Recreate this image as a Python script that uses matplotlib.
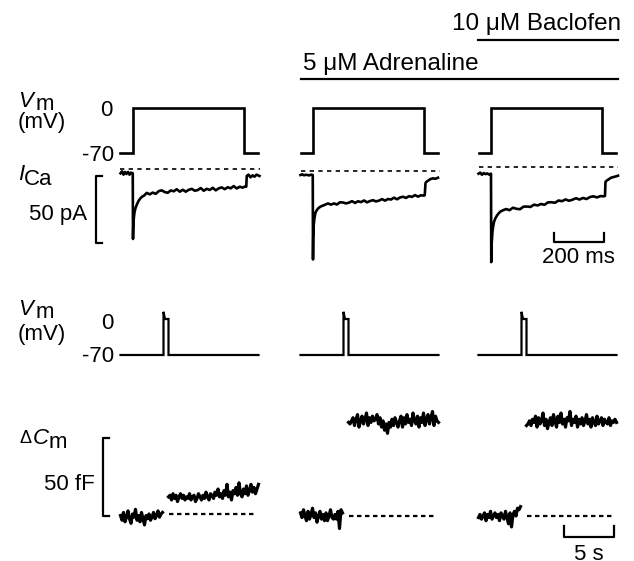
import numpy as np
import matplotlib
matplotlib.use("Agg")
import matplotlib.pyplot as plt
from matplotlib.lines import Line2D

plt.rcParams["font.family"] = ["Liberation Sans", "DejaVu Sans"]

W, H = 634, 561

# voltage step protocol (ms, mV)
step_t = [0, 50, 50, 495, 495, 550]
step_v = [-70, -70, 0, 0, -70, -70]

# single depolarisation used for the capacitance runs (s, mV)
pulse_t = [0, 4.3, 4.3, 4.45, 4.8, 4.8, 13.8]
pulse_v = [-70, -70, 14, 0, 0, -70, -70]

# I_Ca traces (ms, pA): control / adrenaline / adrenaline + baclofen
ica1_t = [0, 6, 12, 18, 24, 30, 36, 42, 49,
          50, 51, 53, 56, 60, 65, 71, 78, 86, 95,
          105, 117, 129, 141, 153, 165, 177, 189, 201, 213, 225, 237, 249, 261,
          273, 285, 297, 309, 321, 333, 345, 357, 369, 381, 393, 405, 417, 429,
          441, 453, 465, 477, 489, 501,
          503, 505, 512, 520, 528, 536, 544, 556]
ica1 = [-3, -1.5, -4, -2, -3.5, -2, -4, -2.5, -3,
        -52, -44, -37, -32, -29, -26.5, -24, -22, -20.5, -19.5,
        -17.6, -18.7, -17.4, -18.3, -16.3, -15.7, -17.0, -17.5, -15.8, -16.4,
        -14.9, -16.7, -15.3, -16.7, -15.3, -14.6, -16.0, -15.5, -14.0, -16.0,
        -14.6, -15.4, -13.8, -15.7, -14.2, -13.5, -14.8, -13.4, -14.2, -12.5,
        -14.3, -13.0, -13.7, -12.5,
        -13, -5, -4, -6, -4.5, -5.5, -4, -5]

ica2_t = [0, 7, 14, 21, 28, 35, 42, 49,
          50, 51, 53, 56, 60, 66, 73, 81, 90, 100,
          110, 122, 134, 146, 158, 170, 182, 194, 206, 218, 230, 242, 254, 266,
          278, 290, 302, 314, 326, 338, 350, 362, 374, 386, 398, 410, 422, 434,
          446, 458, 470, 482, 494,
          497, 500, 504, 512, 520, 530, 540, 550]
ica2 = [-3, -2.5, -3.2, -2.8, -3, -3.3, -2.7, -3,
        -66, -50, -40, -35, -31, -29, -27.5, -26.5, -25.8, -25,
        -24.2, -25.1, -24.2, -25.0, -23.3, -23.5, -24.2, -23.6, -22.5, -23.8,
        -22.6, -23.2, -22.0, -23.4, -22.4, -21.8, -22.7, -22.1, -21.0, -22.1,
        -20.9, -21.3, -19.9, -21.1, -19.8, -19.2, -20.1, -18.8, -19.3, -18.0,
        -19.1, -18.1, -18.4,
        -18, -9, -8, -7, -6, -5.5, -5.8, -5]

ica3_t = [0, 7, 14, 21, 28, 35, 42, 50,
          51, 53, 56, 59, 62, 67, 74, 81, 88, 98,
          110, 124, 138, 152, 166, 180, 194, 208, 222, 236, 250, 264, 278, 292,
          306, 320, 334, 348, 362, 376, 390, 404, 418, 432, 446, 460, 474, 488,
          502,
          506, 508, 514, 522, 530, 540, 550, 558]
ica3 = [-5, -4.2, -5.8, -4.5, -5.3, -4.8, -5.6, -5,
        -71, -56, -48, -44, -41, -38.5, -36.2, -34.5, -33.2, -32.3,
        -31.4, -32.2, -30.4, -31.2, -31.5, -29.6, -29.5, -29.8, -28.1, -28.7,
        -27.6, -28.2, -26.4, -26.3, -26.7, -25.0, -25.5, -24.2, -25.2, -24.4,
        -23.3, -24.3, -23.1, -23.9, -22.4, -21.9, -22.7, -21.7, -21.9,
        -21.5, -11, -10, -9, -8, -7.5, -7, -6.5]

# membrane capacitance change (fF), sampled every 0.15 s before / after pulse
cm_pre = [
    [-1, -4, 1, -5, -2, 2, -3, -6, 0, -2, 3, -4, -1, -5, 1, -3, -7, -1, -3,
     0, -4, -2, 1, -3, -1, 2, -2, 0, 1],
    [2, -1, 4, 0, -3, 3, -2, 1, 5, -1, 2, -4, 0, 3, -2, 1, -3, 2, -3, 0, 4,
     -1, -2, 1, -2, 3, -8, 4, 2],
    [-1, 1, -2, 0, 2, -3, 1, -1, 3, -2, 0, 2, -1, 1, -3, 2, 0, -2, 3, -1,
     -5, 2, -7, 1, 3, 0, 5, 4, 6],
]
cm_post = [
    [11, 12, 9, 13, 10, 12, 8, 11, 13, 10, 12, 9, 11, 10, 13, 9, 11, 12, 8,
     10, 13, 11, 9, 12, 10, 14, 11, 9, 13, 12, 10, 14, 12, 16, 11, 13, 10,
     15, 12, 19, 11, 14, 9, 15, 13, 17, 12, 20, 13, 11, 16, 13, 18, 12, 15,
     19, 14, 17, 13, 16, 19],
    [60, 59, 61, 63, 58, 62, 65, 57, 61, 64, 59, 62, 66, 58, 63, 60, 64, 61,
     62, 65, 59, 63, 57, 61, 55, 59, 53, 60, 57, 62, 58, 63, 60, 57, 61, 64,
     57, 63, 59, 65, 60, 62, 58, 66, 61, 59, 64, 57, 63, 60, 66, 58, 62, 65,
     59, 63, 67, 58, 64, 61, 60],
    [58, 59, 61, 58, 62, 60, 64, 57, 63, 59, 61, 66, 58, 62, 56, 60, 63, 58,
     65, 61, 57, 64, 60, 66, 59, 62, 57, 63, 61, 67, 58, 62, 60, 64, 57, 62,
     59, 63, 58, 61, 65, 59, 62, 57, 63, 60, 58, 64, 59, 61, 63, 58, 62, 60,
     59, 63, 58, 61, 60, 62, 60],
]
cm_pre_t = np.linspace(0, 4.2, len(cm_pre[0]))
cm_post_t = np.linspace(4.8, 13.8, len(cm_post[0]))

ica_t = [ica1_t, ica2_t, ica3_t]
ica = [ica1, ica2, ica3]

# layout (pixels)
col_x0 = [120.5, 300.5, 478.5]
ica_zero = [169.3, 171, 167]
cm_zero = [514, 516, 516]

fig = plt.figure(figsize=(W / 100, H / 100), dpi=100)


def panel(x0, y0, sx, sy):
    # x0, y0 = pixel of data origin, sx, sy = pixels per data unit
    left, right = x0 - 40, x0 + 160
    top, bottom = y0 - 120, y0 + 120
    ax = fig.add_axes([left / W, 1 - bottom / H, (right - left) / W,
                       (bottom - top) / H])
    ax.set_xlim((left - x0) / sx, (right - x0) / sx)
    ax.set_ylim((y0 - bottom) / sy, (y0 - top) / sy)
    ax.set_axis_off()
    ax.patch.set_visible(False)
    return ax


def put(x, y, s, **kw):
    kw.setdefault("fontsize", 16)
    kw.setdefault("va", "baseline")
    fig.text(x / W, 1 - y / H, s, **kw)


def hline(x0, x1, y, lw=1.6):
    fig.add_artist(Line2D([x0 / W, x1 / W], [1 - y / H, 1 - y / H],
                          transform=fig.transFigure, color="k", lw=lw))


for c in range(3):
    axv = panel(col_x0[c], 108, 0.25, 45 / 70)
    axv.plot(step_t, step_v, "k-", lw=1.9, solid_joinstyle="miter")

    axi = panel(col_x0[c], ica_zero[c], 0.25, 1.34)
    axi.plot([0, 556], [0, 0], "k", lw=1.2, ls=(0, (2.6, 2.6)))
    axi.plot(ica_t[c], ica[c], "k-", lw=1.9)

    axp = panel(col_x0[c], 319, 10, 36 / 70)
    axp.plot(pulse_t, pulse_v, "k-", lw=1.6, solid_joinstyle="miter")

    axc = panel(col_x0[c], cm_zero[c], 10, 1.56)
    axc.plot([4.8, 13.6], [0, 0], "k", lw=1.6, ls=(0, (2.0, 1.6)))
    axc.plot(cm_pre_t, cm_pre[c], "k-", lw=2.3)
    axc.plot(cm_post_t, cm_post[c], "k-", lw=2.3)

    if c == 0:
        axi.plot([-72, -98, -98, -72], [-5, -5, -55, -55], "k-", lw=1.6)
        axc.plot([-1.1, -1.75, -1.75, -1.1], [-1, -1, 49, 49], "k-", lw=1.6)
    if c == 2:
        axi.plot([300, 300, 500, 500], [-49, -56, -56, -49], "k-", lw=1.6)
        axc.plot([8.5, 8.5, 13.5, 13.5], [-6.5, -13.5, -13.5, -6.5], "k-",
                 lw=1.6)

# drug application bars
put(452, 30, "10 \u03bcM Baclofen", fontsize=17.5)
hline(478, 618, 40)
put(303, 70, "5 \u03bcM Adrenaline", fontsize=17.5)
hline(301, 618, 79)

# upper voltage / current labels
put(18, 107, "V", style="italic", fontsize=16)
put(36, 110, "m", fontsize=16)
put(18, 128, "(mV)")
put(106, 116, "0", ha="center")
put(114, 161, "-70", ha="right")
put(18, 180, "I", style="italic", fontsize=16)
put(24, 185, "Ca", fontsize=16)
put(87, 220, "50 pA", ha="right")
put(578, 263, "200 ms", ha="center")

# lower labels
put(18, 315, "V", style="italic", fontsize=16)
put(36, 318, "m", fontsize=16)
put(18, 340, "(mV)")
put(107, 329, "0", ha="center")
put(114, 362, "-70", ha="right")
put(20, 443, "\u0394", fontsize=13)
put(33, 444, "C", style="italic", fontsize=16)
put(49, 448, "m", fontsize=16)
put(95, 490, "50 fF", ha="right")
put(589, 560, "5 s", ha="center")

fig.savefig("out.png", dpi=100)
